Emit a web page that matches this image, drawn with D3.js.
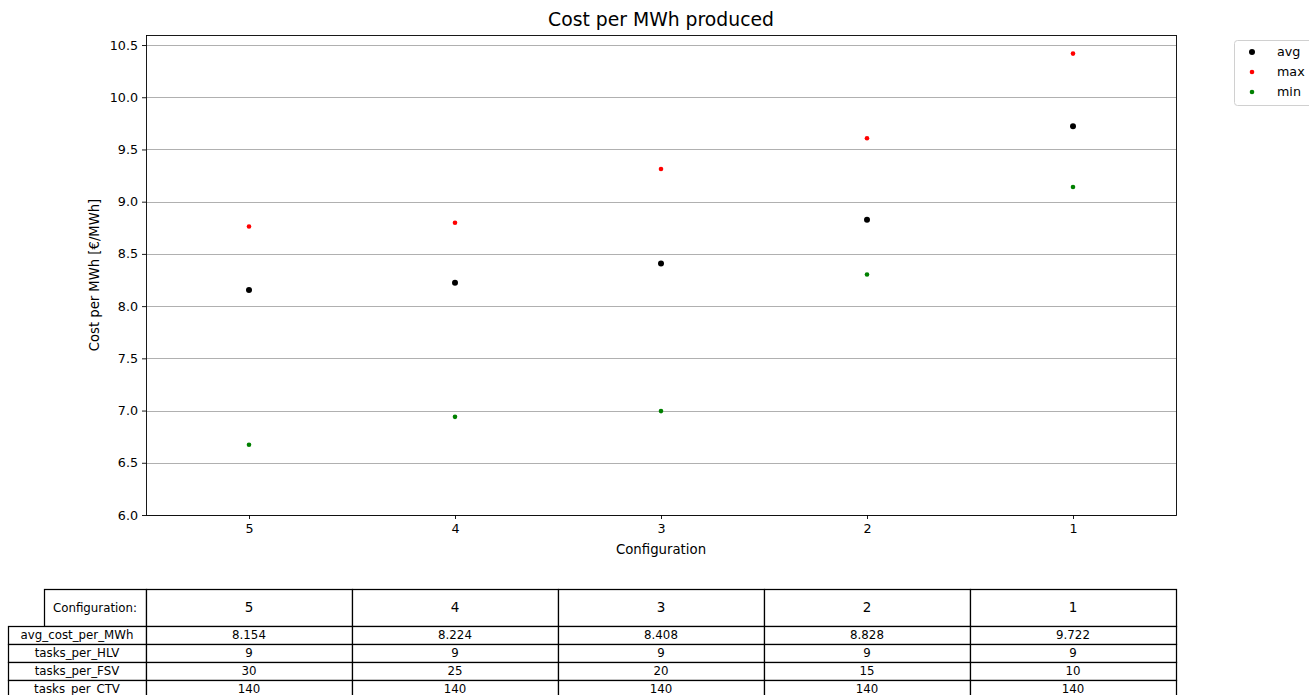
<!DOCTYPE html>
<html>
<head>
<meta charset="utf-8">
<script src="https://cdn.jsdelivr.net/npm/d3@7"></script>
<style>
  html, body { margin: 0; padding: 0; background: #fff; }
  svg { display: block; font-family: "DejaVu Sans", sans-serif; }
</style>
</head>
<body>
<svg id="chart" width="1309" height="695"></svg>
<script>
// Configurations, ordered as shown on the x axis
const configurations = ["5", "4", "3", "2", "1"];
// Cost per MWh produced [€/MWh]
const avgCost = [8.154, 8.224, 8.408, 8.828, 9.722];
const maxCost = [8.762, 8.798, 9.313, 9.608, 10.418];
const minCost = [6.672, 6.940, 6.995, 8.303, 9.141];
// Tick labels for the y axis
const yTicks = [6.0, 6.5, 7.0, 7.5, 8.0, 8.5, 9.0, 9.5, 10.0, 10.5];
// Table rows under the chart
const rowLabels = ["avg_cost_per_MWh", "tasks_per_HLV", "tasks_per_FSV", "tasks_per_CTV"];
const avgCostText = ["8.154", "8.224", "8.408", "8.828", "9.722"];
const tasksPerHLV = [9, 9, 9, 9, 9];
const tasksPerFSV = [30, 25, 20, 15, 10];
const tasksPerCTV = [140, 140, 140, 140, 140];

const series = [
  { name: "avg", values: avgCost, color: "#000000", r: 3 },
  { name: "max", values: maxCost, color: "#ff0000", r: 2.3 },
  { name: "min", values: minCost, color: "#008000", r: 2.3 }
];

const svg = d3.select("#chart");
const plot = { left: 146, right: 1176, top: 35, bottom: 515 };

const x = d3.scalePoint()
  .domain(configurations)
  .range([plot.left, plot.right])
  .padding(0.5);

const y = d3.scaleLinear()
  .domain([6.0, 10.596])
  .range([plot.bottom, plot.top]);

// Horizontal grid
svg.append("g")
  .selectAll("line")
  .data(yTicks)
  .join("line")
  .attr("x1", plot.left)
  .attr("x2", plot.right)
  .attr("y1", d => Math.round(y(d)) + 0.5)
  .attr("y2", d => Math.round(y(d)) + 0.5)
  .attr("stroke", "#b0b0b0")
  .attr("stroke-width", 1);

// Axes
const yAxis = svg.append("g")
  .attr("transform", `translate(${plot.left},0)`)
  .call(d3.axisLeft(y).tickValues(yTicks).tickFormat(d3.format(".1f")).tickSize(4).tickPadding(4));
const xAxis = svg.append("g")
  .attr("transform", `translate(0,${plot.bottom})`)
  .call(d3.axisBottom(x).tickSize(4).tickPadding(5));
[yAxis, xAxis].forEach(g => {
  g.select(".domain").remove();
  g.selectAll("text").attr("font-size", 12.7).attr("fill", "#000").attr("font-family", "DejaVu Sans, sans-serif");
  g.selectAll("line").attr("stroke", "#000").attr("stroke-width", 0.9);
});

// Frame
svg.append("rect")
  .attr("x", plot.left + 0.5)
  .attr("y", plot.top + 0.5)
  .attr("width", plot.right - plot.left)
  .attr("height", plot.bottom - plot.top)
  .attr("fill", "none")
  .attr("stroke", "#000")
  .attr("stroke-width", 0.9);

// Points
series.forEach(s => {
  svg.append("g")
    .selectAll("circle")
    .data(s.values)
    .join("circle")
    .attr("cx", (d, i) => x(configurations[i]))
    .attr("cy", d => y(d))
    .attr("r", s.r)
    .attr("fill", s.color);
});

// Title and axis labels
svg.append("text")
  .attr("x", (plot.left + plot.right) / 2)
  .attr("y", 26)
  .attr("text-anchor", "middle")
  .attr("font-size", 18.8)
  .text("Cost per MWh produced");

svg.append("text")
  .attr("x", (plot.left + plot.right) / 2)
  .attr("y", 554)
  .attr("text-anchor", "middle")
  .attr("font-size", 13.3)
  .text("Configuration");

svg.append("text")
  .attr("transform", `translate(99,${(plot.top + plot.bottom) / 2}) rotate(-90)`)
  .attr("text-anchor", "middle")
  .attr("font-size", 13.2)
  .text("Cost per MWh [€/MWh]");

// Legend
const legend = svg.append("g");
legend.append("rect")
  .attr("x", 1234.5).attr("y", 40.5)
  .attr("width", 100).attr("height", 65)
  .attr("rx", 3)
  .attr("fill", "#fff")
  .attr("stroke", "#d0d0d0");
series.forEach((s, i) => {
  legend.append("circle")
    .attr("cx", 1252).attr("cy", 52 + i * 20)
    .attr("r", s.r).attr("fill", s.color);
  legend.append("text")
    .attr("x", 1277).attr("y", 52 + i * 20)
    .attr("dy", "0.35em")
    .attr("font-size", 12.7)
    .text(s.name);
});

// Table
const table = svg.append("g");
const colX = configurations.map(c => x(c) - x.step() / 2);
const colW = x.step();
const headerTop = 589, headerBottom = 626, rowH = 18;
const rowValues = [avgCostText, tasksPerHLV, tasksPerFSV, tasksPerCTV];

function cell(x0, y0, w, h, label, size) {
  table.append("rect")
    .attr("x", x0 + 0.5).attr("y", y0 + 0.5)
    .attr("width", w).attr("height", h)
    .attr("fill", "#fff").attr("stroke", "#000").attr("stroke-width", 1.25);
  table.append("text")
    .attr("x", x0 + w / 2).attr("y", y0 + h / 2)
    .attr("dy", "0.36em")
    .attr("text-anchor", "middle")
    .attr("font-size", size)
    .text(label);
}

cell(44, headerTop, plot.left - 44, headerBottom - headerTop, "Configuration:", 11.8);
configurations.forEach((c, i) => cell(colX[i], headerTop, colW, headerBottom - headerTop, c, 13.5));
rowLabels.forEach((lab, r) => {
  const y0 = headerBottom + r * rowH;
  cell(8, y0, plot.left - 8, rowH, lab, 11.8);
  rowValues[r].forEach((v, i) => cell(colX[i], y0, colW, rowH, v, 11.8));
});
</script>
</body>
</html>
